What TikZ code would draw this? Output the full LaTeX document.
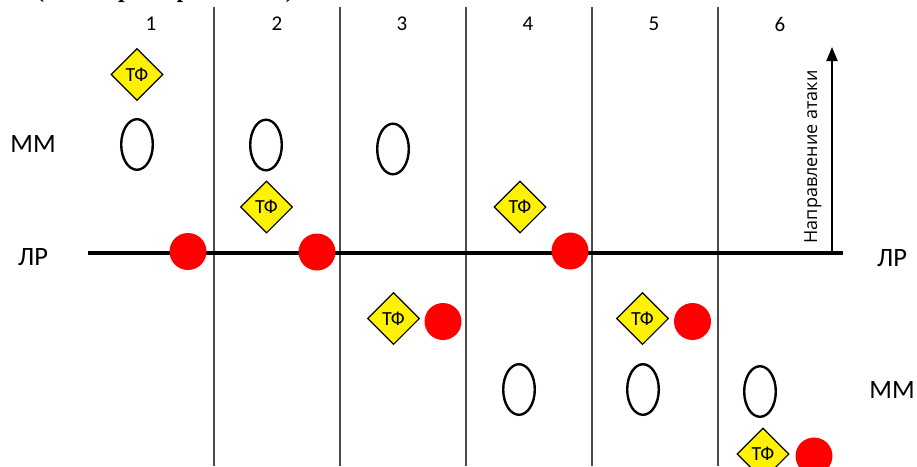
\documentclass[tikz,border=0pt]{standalone}
\usepackage{fontspec}
\setmainfont{Carlito}
\newfontfamily\titlefont{Liberation Serif}
\newfontfamily\rotfont{Open Sans}
\usetikzlibrary{shapes.geometric,arrows.meta}
\begin{document}
\begin{tikzpicture}[x=1pt,y=-1pt,
  colline/.style={draw=black!70, line width=1.2pt},
  lrline/.style={draw=black, line width=3.5pt},
  tf/.style={diamond, draw=black, line width=1.1pt, fill=yellow, minimum size=52pt, inner sep=0pt, font=\fontsize{20}{20}\selectfont},
  mm/.style={ellipse, draw=black, line width=2.4pt, minimum width=31.6pt, minimum height=50.6pt, inner sep=0pt},
  rd/.style={circle, fill=red, minimum size=37pt, inner sep=0pt},
  lbl/.style={font=\fontsize{26.5}{26.5}\selectfont, inner sep=0pt},
  num/.style={font=\fontsize{21}{21}\selectfont, inner sep=0pt}]
\useasboundingbox (0,0) rectangle (917,466);

% clipped title
\begin{scope}
\clip (0,0) rectangle (917,466);
\node[anchor=base west, inner sep=0pt, font=\titlefont\bfseries\fontsize{24}{24}\selectfont] (title) at (36,-3) {(линия развёртывания)};
\end{scope}

% column lines
\foreach \i/\x in {1/214,2/340,3/466,4/592,5/718}{
  \coordinate (ct\i) at (\x,7);
  \coordinate (cb\i) at (\x,466);
  \draw[colline] (ct\i) -- (cb\i);
}

% column numbers
\node[num] (n1) at (151,23.5) {1};
\node[num] (n2) at (277,23.5) {2};
\node[num] (n3) at (402,23.5) {3};
\node[num] (n4) at (528,23.5) {4};
\node[num] (n5) at (654,23.5) {5};
\node[num] (n6) at (780,24) {6};

% LR line
\coordinate (lrL) at (88,253);
\coordinate (lrR) at (843,253);
\draw[lrline] (lrL) -- (lrR);

% attack arrow
\coordinate (aB) at (832,253);
\coordinate (aT) at (832,47);
\draw[line width=2pt, -{Triangle[width=11pt,length=14pt]}] (aB) -- (aT);
\node[rotate=90, anchor=base, inner sep=0pt, font=\rotfont\fontsize{18}{18}\selectfont] (dir) at (817,157) {Направление атаки};

% side labels
\node[lbl] (mmL) at (33,144) {ММ};
\node[lbl] (lrLt) at (33,257) {ЛР};
\node[lbl] (lrRt) at (892,258) {ЛР};
\node[lbl] (mmR) at (892,390) {ММ};

% ellipses
\node[mm] (e1) at (137,144.5) {};
\node[mm] (e2) at (266,145) {};
\node[mm] (e3) at (393,149) {};
\node[mm] (e4) at (519,389.5) {};
\node[mm] (e5) at (643,389.5) {};
\node[mm] (e6) at (760,391.5) {};

% red circles
\node[rd] (r1) at (188,251.5) {};
\node[rd] (r2) at (317,252) {};
\node[rd] (r3) at (570,251) {};
\node[rd] (r4) at (443,321.5) {};
\node[rd] (r5) at (692.5,321.5) {};
\node[rd] (r6) at (814,456) {};

% diamonds
\node[tf] (d1) at (137,74.5) {ТФ};
\node[tf] (d2) at (266.5,207) {ТФ};
\node[tf] (d3) at (520,207) {ТФ};
\node[tf] (d4) at (393.5,318.5) {ТФ};
\node[tf] (d5) at (642.5,318.5) {ТФ};
\node[tf] (d6) at (763,454) {ТФ};
\end{tikzpicture}
\end{document}
